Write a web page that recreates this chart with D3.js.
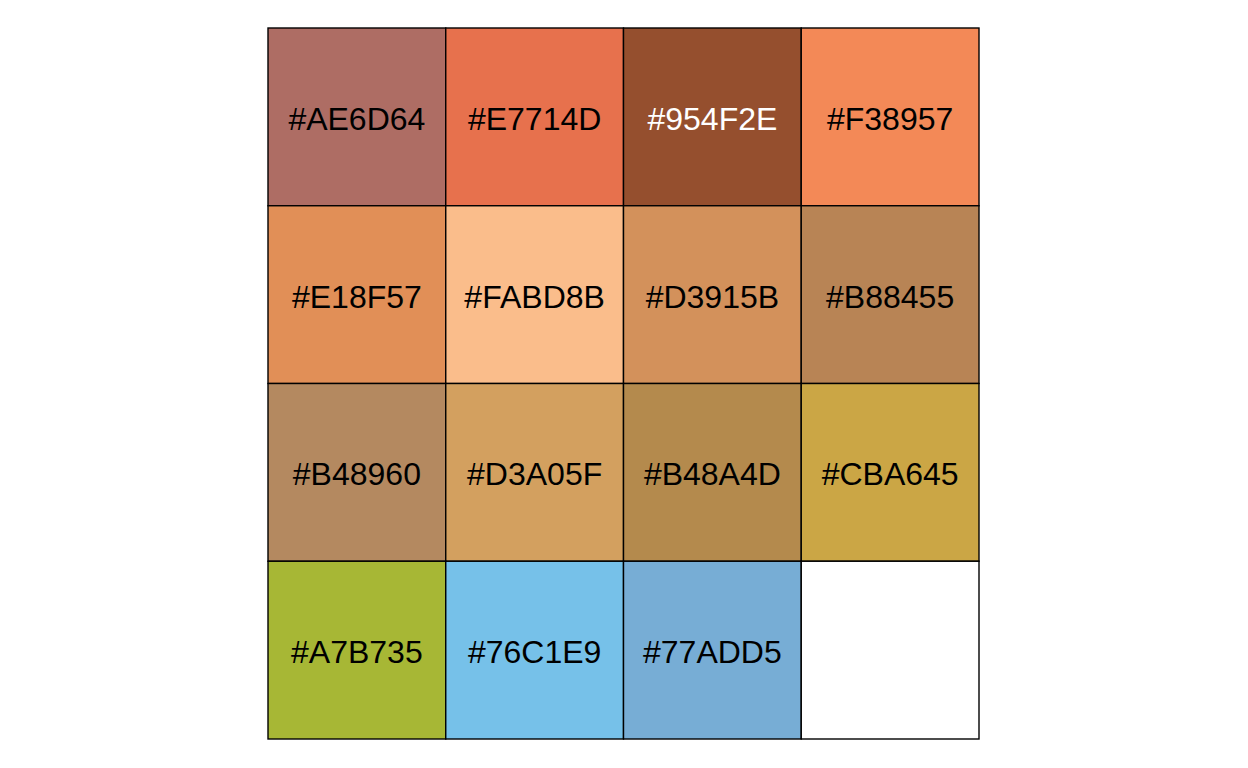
<!DOCTYPE html>
<html>
<head>
<meta charset="utf-8">
<script src="https://cdn.jsdelivr.net/npm/d3@7"></script>
<style>
  body { margin: 0; background: #fff; }
</style>
</head>
<body>
<svg id="chart"></svg>
<script>
const colors = [
    "#AE6D64", "#E7714D", "#954F2E", "#F38957",
    "#E18F57", "#FABD8B", "#D3915B", "#B88455",
    "#B48960", "#D3A05F", "#B48A4D", "#CBA645",
    "#A7B735", "#76C1E9", "#77ADD5"
];
const nCols = 4;
const nRows = 4;

const width = 1248;
const height = 768;
const grid = { left: 268, top: 28, size: 711 }; // square grid area

const svg = d3.select("#chart").attr("width", width).attr("height", height);

const x = d3.scaleBand().domain(d3.range(nCols)).range([grid.left, grid.left + grid.size]);
const y = d3.scaleBand().domain(d3.range(nRows)).range([grid.top, grid.top + grid.size]);

// all cells, empty ones stay white
const cells = d3.range(nCols * nRows).map(i => ({
    i,
    col: i % nCols,
    row: Math.floor(i / nCols),
    color: colors[i] || null
}));

svg.selectAll("rect.cell")
    .data(cells)
    .enter()
    .append("rect")
    .attr("class", "cell")
    .attr("x", d => x(d.col))
    .attr("y", d => y(d.row))
    .attr("width", x.bandwidth())
    .attr("height", y.bandwidth())
    .attr("fill", d => d.color || "#FFFFFF")
    .attr("stroke", "#000")
    .attr("stroke-width", 1.4);

// dark swatches get white text
const textColor = c => d3.hsl(c).l < 0.4 ? "#FFFFFF" : "#000000";

svg.selectAll("text.label")
    .data(cells.filter(d => d.color))
    .enter()
    .append("text")
    .attr("class", "label")
    .attr("x", d => x(d.col) + x.bandwidth() / 2)
    .attr("y", d => y(d.row) + y.bandwidth() / 2 + 13)
    .attr("text-anchor", "middle")
    .style("font-family", "'Liberation Sans', Arial, sans-serif")
    .style("font-size", "32px")
    .attr("fill", d => textColor(d.color))
    .text(d => d.color);
</script>
</body>
</html>
